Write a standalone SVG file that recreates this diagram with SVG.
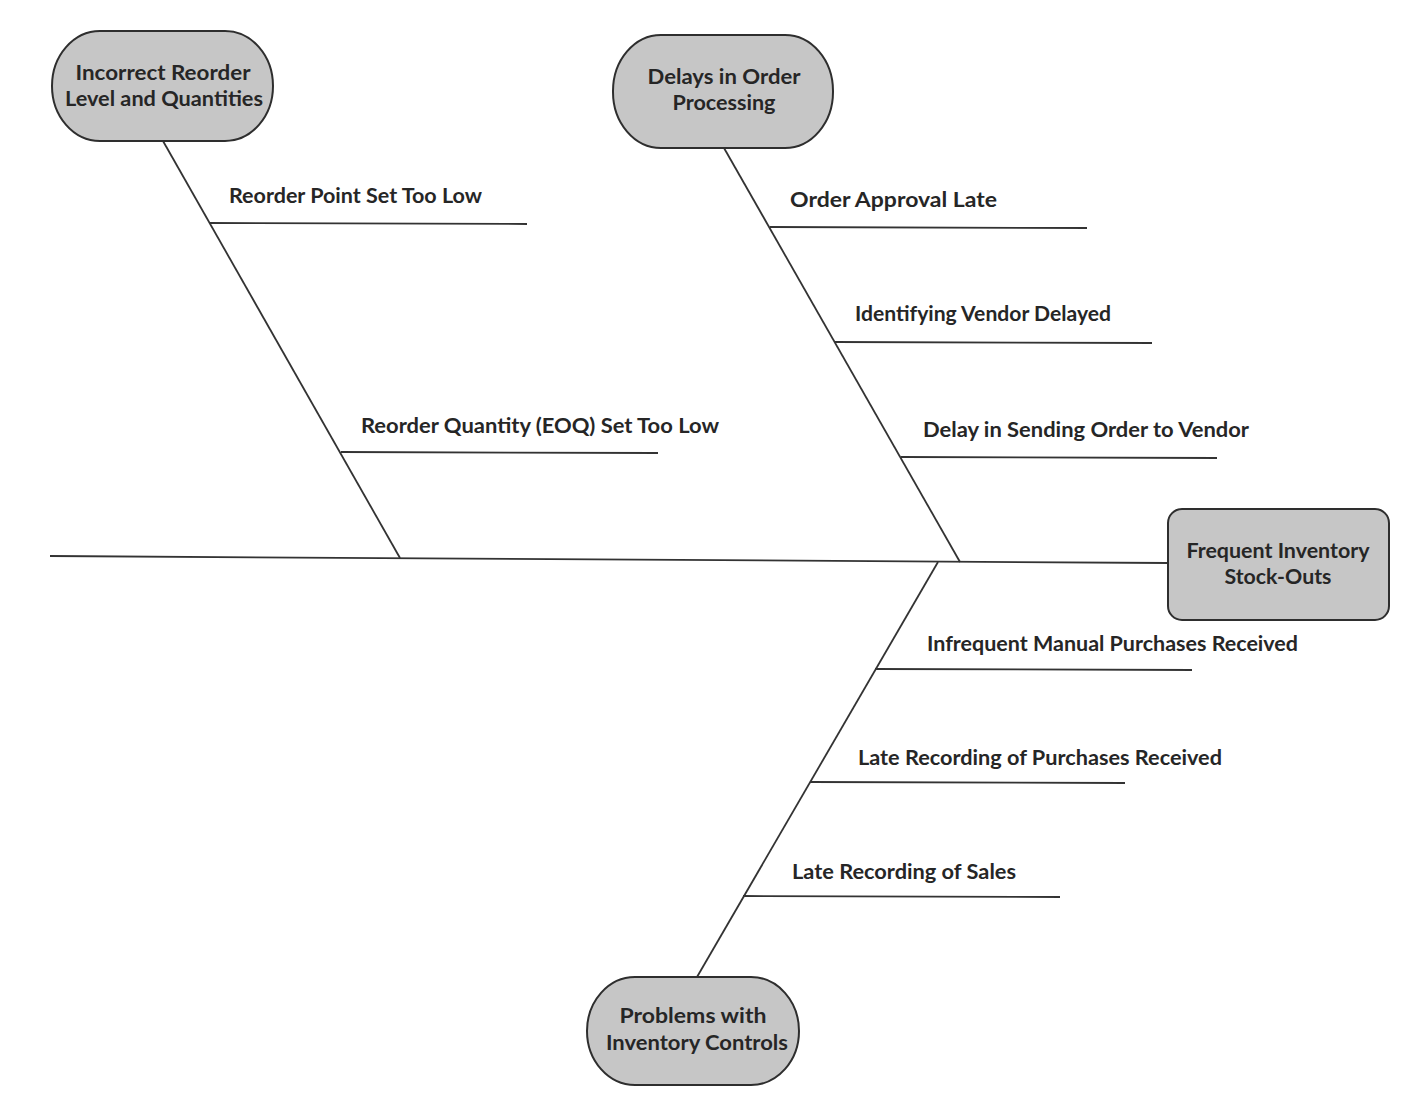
<svg xmlns="http://www.w3.org/2000/svg" width="1422" height="1098" viewBox="0 0 1422 1098">
<style>
.bg{fill:#ffffff}
.node{fill:#c6c6c6;stroke:#2e2e2e;stroke-width:2}
.ln{stroke:#333333;stroke-width:1.8;fill:none}
.t{font-family:Lato,"Open Sans","Liberation Sans",sans-serif;font-weight:700;font-size:20px;fill:#262626}
.c{text-anchor:middle}
</style>
<rect class="bg" x="0" y="0" width="1422" height="1098"/>
<g id="connectors">
<line class="ln" x1="50" y1="556" x2="1168" y2="563"/>
<line class="ln" x1="163" y1="141" x2="400" y2="558"/>
<line class="ln" x1="724" y1="148" x2="960" y2="562"/>
<line class="ln" x1="938" y1="562" x2="697" y2="977"/>
<line class="ln" x1="209" y1="223" x2="527" y2="224"/>
<line class="ln" x1="341" y1="452" x2="658" y2="453"/>
<line class="ln" x1="770" y1="227" x2="1087" y2="228"/>
<line class="ln" x1="835" y1="342" x2="1152" y2="343"/>
<line class="ln" x1="901" y1="457" x2="1217" y2="458"/>
<line class="ln" x1="875" y1="669" x2="1192" y2="670"/>
<line class="ln" x1="810" y1="782" x2="1125" y2="783"/>
<line class="ln" x1="743" y1="896" x2="1060" y2="897"/>
</g>
<g id="labels">
<text class="t" x="229" y="203" textLength="253" lengthAdjust="spacingAndGlyphs">Reorder Point Set Too Low</text>
<text class="t" x="361" y="433" textLength="358" lengthAdjust="spacingAndGlyphs">Reorder Quantity (EOQ) Set Too Low</text>
<text class="t" x="790" y="207" textLength="207" lengthAdjust="spacingAndGlyphs">Order Approval Late</text>
<text class="t" x="855" y="321" textLength="256" lengthAdjust="spacingAndGlyphs">Identifying Vendor Delayed</text>
<text class="t" x="923" y="437" textLength="326" lengthAdjust="spacingAndGlyphs">Delay in Sending Order to Vendor</text>
<text class="t" x="927" y="651" textLength="371" lengthAdjust="spacingAndGlyphs">Infrequent Manual Purchases Received</text>
<text class="t" x="858" y="765" textLength="364" lengthAdjust="spacingAndGlyphs">Late Recording of Purchases Received</text>
<text class="t" x="792" y="879" textLength="224" lengthAdjust="spacingAndGlyphs">Late Recording of Sales</text>
</g>
<g id="node-incorrect-reorder">
<rect class="node" x="52" y="31" width="221" height="110" rx="48" ry="55"/>
<text class="t c" x="163" y="80" textLength="175" lengthAdjust="spacingAndGlyphs">Incorrect Reorder</text>
<text class="t c" x="164" y="106" textLength="198" lengthAdjust="spacingAndGlyphs">Level and Quantities</text>
</g>
<g id="node-delays-order">
<rect class="node" x="613" y="35" width="220" height="113" rx="48" ry="56"/>
<text class="t c" x="724" y="84" textLength="153" lengthAdjust="spacingAndGlyphs">Delays in Order</text>
<text class="t c" x="724" y="110" textLength="103" lengthAdjust="spacingAndGlyphs">Processing</text>
</g>
<g id="node-stockouts">
<rect class="node" x="1168" y="509" width="221" height="111" rx="14" ry="14"/>
<text class="t c" x="1278" y="558" textLength="183" lengthAdjust="spacingAndGlyphs">Frequent Inventory</text>
<text class="t c" x="1278" y="584" textLength="107" lengthAdjust="spacingAndGlyphs">Stock-Outs</text>
</g>
<g id="node-inventory-controls">
<rect class="node" x="587" y="977" width="212" height="108" rx="48" ry="54"/>
<text class="t c" x="693" y="1023" textLength="147" lengthAdjust="spacingAndGlyphs">Problems with</text>
<text class="t c" x="697" y="1050" textLength="182" lengthAdjust="spacingAndGlyphs">Inventory Controls</text>
</g>
</svg>
